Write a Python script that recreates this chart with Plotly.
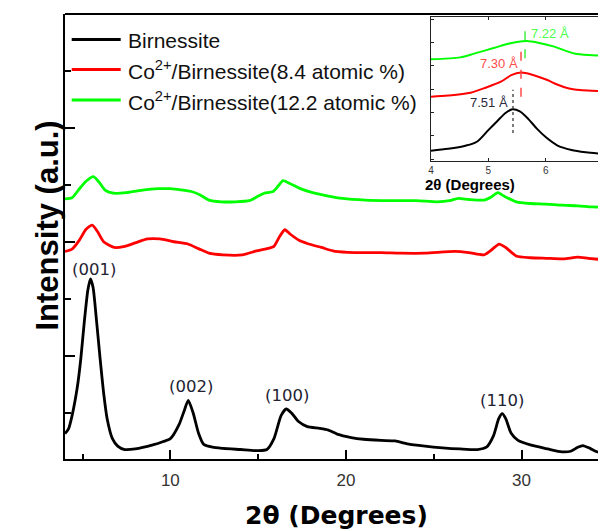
import plotly.graph_objects as go

# ---------------- main data ----------------
bir_x = [4.0, 4.2, 4.4, 4.7, 4.9, 5.1, 5.3, 5.45, 5.6, 5.8, 6.0, 6.2, 6.4, 6.7, 7.0, 7.4, 8.0, 9.0, 9.6,
         10.0, 10.5, 10.8, 11.02, 11.3, 11.6, 11.9, 12.4, 13.0, 14.0, 15.0, 15.5, 15.9, 16.3, 16.6, 16.9,
         17.3, 17.8, 18.5, 19.0, 19.5, 20.3, 21.0, 22.0, 22.8, 23.5, 24.5, 25.5, 26.5, 27.5, 28.0, 28.4,
         28.7, 28.9, 29.1, 29.4, 29.8, 30.5, 31.5, 32.3, 32.8, 33.2, 33.5, 33.9, 34.3, 34.81]
bir_y = [-0.36, -0.28, -0.05, 0.45, 0.95, 1.6, 2.15, 2.35, 2.2, 1.6, 0.95, 0.35, -0.1, -0.45, -0.58, -0.64,
         -0.63, -0.56, -0.5, -0.45, -0.2, 0.05, 0.22, 0.0, -0.35, -0.55, -0.6, -0.62, -0.64, -0.66, -0.64,
         -0.45, -0.05, 0.07, 0.0, -0.15, -0.24, -0.27, -0.3, -0.37, -0.43, -0.46, -0.48, -0.49, -0.54,
         -0.58, -0.61, -0.63, -0.64, -0.6, -0.4, -0.1, -0.01, -0.1, -0.35, -0.48, -0.56, -0.63, -0.68,
         -0.67, -0.6, -0.57, -0.62, -0.68, -0.72]

co84_x = [4.0, 4.4, 4.8, 5.2, 5.55, 5.85, 6.2, 6.8, 7.4, 8.0, 8.7, 9.4, 10.2, 11.0, 11.6, 12.2, 13.0,
          14.1, 14.9, 15.5, 15.9, 16.2, 16.52, 16.8, 17.3, 17.8, 18.6, 19.4, 20.5, 22.0, 23.1, 24.5,
          26.2, 27.0, 27.86, 28.3, 28.72, 29.1, 29.7, 30.5, 31.4, 32.4, 33.2, 33.8, 34.81]
co84_y = [2.83, 2.87, 3.02, 3.22, 3.29, 3.18, 3.0, 2.9, 2.92, 2.98, 3.05, 3.05, 3.0, 2.96, 2.88, 2.8,
          2.77, 2.77, 2.84, 2.88, 2.92, 3.08, 3.21, 3.14, 3.03, 2.97, 2.9, 2.83, 2.81, 2.81, 2.8, 2.8,
          2.83, 2.81, 2.77, 2.86, 2.96, 2.9, 2.75, 2.72, 2.71, 2.7, 2.73, 2.71, 2.68]

co122_x = [4.0, 4.4, 4.8, 5.2, 5.62, 5.95, 6.3, 6.75, 7.5, 8.5, 9.3, 10.0, 10.6, 11.2, 11.7, 12.2, 12.9,
           13.7, 14.5, 15.0, 15.35, 15.85, 16.15, 16.42, 16.8, 17.4, 18.1, 19.0, 19.8, 21.1, 22.5, 24.0,
           25.2, 25.9, 26.4, 27.0, 27.86, 28.3, 28.65, 29.0, 29.7, 30.5, 31.4, 32.3, 33.2, 34.0, 34.81]
co122_y = [3.75, 3.77, 3.92, 4.06, 4.14, 4.04, 3.9, 3.85, 3.86, 3.91, 3.93, 3.93, 3.91, 3.88, 3.82, 3.73,
           3.7, 3.7, 3.72, 3.8, 3.85, 3.88, 3.98, 4.07, 4.02, 3.93, 3.86, 3.8, 3.76, 3.73, 3.72, 3.72,
           3.7, 3.72, 3.76, 3.74, 3.73, 3.79, 3.86, 3.8, 3.7, 3.67, 3.66, 3.64, 3.63, 3.61, 3.6]

peak_labels = ["(001)", "(002)", "(100)", "(110)"]
peak_lx = [5.65, 11.19, 16.67, 28.9]
peak_ly = [2.52, 0.47, 0.30, 0.215]

# ---------------- inset data ----------------
in_bir_x = [4.0, 4.3, 4.6, 4.8, 5.0, 5.15, 5.3, 5.42, 5.55, 5.7, 5.85, 6.0, 6.2, 6.45, 6.7, 7.0]
in_bir_y = [-0.63, -0.55, -0.42, -0.25, 0.25, 0.62, 0.98, 1.14, 1.05, 0.72, 0.3, -0.05, -0.4, -0.6, -0.7, -0.77]
in_co84_x = [4.0, 4.3, 4.69, 4.95, 5.22, 5.4, 5.57, 5.75, 6.03, 6.2, 6.39, 6.6, 6.8, 7.0]
in_co84_y = [1.68, 1.73, 1.85, 2.06, 2.32, 2.6, 2.71, 2.63, 2.39, 2.2, 2.04, 1.96, 1.93, 1.92]
in_co122_x = [4.0, 4.51, 4.75, 4.98, 5.15, 5.33, 5.5, 5.67, 5.85, 6.15, 6.35, 6.5, 6.75, 7.0]
in_co122_y = [3.28, 3.36, 3.52, 3.68, 3.8, 3.93, 4.02, 4.06, 4.0, 3.82, 3.64, 3.53, 3.46, 3.43]

d_labels = ["7.51 Å", "7.30 Å", "7.22 Å"]
d_pos = [5.43, 5.57, 5.64]
d_lo = [0.12, 1.68, 3.32]
d_hi = [1.97, 3.6, 4.74]
d_lx = [5.02, 5.19, 6.08]
d_ly = [1.42, 3.11, 4.39]

legend_names = ["Birnessite", "Co<sup>2+</sup>/Birnessite(8.4 atomic %)",
                "Co<sup>2+</sup>/Birnessite(12.2 atomic %)"]
colors = ["#000000", "#ff0000", "#00ff00"]
d_colors = ["#444444", "#ff3c3c", "#33ee33"]
d_text_colors = ["#2a2a3a", "#ff4d4d", "#4dff4d"]
d_dash = ["dot", "dash", "dash"]

FONT = "Liberation Sans, Arial, sans-serif"
WIDE = "DejaVu Sans, Verdana, sans-serif"

# page body has an 8px margin: figure is sized so it ends at the window edge
OFF = 8
W, H = 606 - OFF, 531 - OFF
ml, mr, mt, mb = 57, 0, 6, 72
pw, ph = W - ml - mr, H - mt - mb


def px(wx):
    return (wx - OFF - ml) / pw


def py(wy):
    return (H - mb - (wy - OFF)) / ph


fig = go.Figure()
for xs, ys, c, n in [(bir_x, bir_y, colors[0], "Birnessite"),
                     (co84_x, co84_y, colors[1], "Co/Bir 8.4"),
                     (co122_x, co122_y, colors[2], "Co/Bir 12.2")]:
    fig.add_trace(go.Scatter(x=xs, y=ys, mode="lines", name=n, showlegend=False,
                             line=dict(color=c, width=2.8, shape="spline", smoothing=0.6),
                             xaxis="x", yaxis="y", hoverinfo="skip"))

for xs, ys, c in [(in_bir_x, in_bir_y, colors[0]), (in_co84_x, in_co84_y, colors[1]),
                  (in_co122_x, in_co122_y, colors[2])]:
    fig.add_trace(go.Scatter(x=xs, y=ys, mode="lines", showlegend=False,
                             line=dict(color=c, width=2, shape="spline", smoothing=0.8),
                             xaxis="x2", yaxis="y2", hoverinfo="skip"))

for i in range(3):
    fig.add_trace(go.Scatter(x=[d_pos[i], d_pos[i]], y=[d_lo[i], d_hi[i]], mode="lines",
                             showlegend=False, line=dict(color=d_colors[i], width=1.4, dash=d_dash[i]),
                             xaxis="x2", yaxis="y2", hoverinfo="skip"))

annotations = []
for t, x, y in zip(peak_labels, peak_lx, peak_ly):
    annotations.append(dict(x=x, y=y, xref="x", yref="y", text=t, showarrow=False,
                            font=dict(family=WIDE, size=16.5, color="#222233")))
for i in range(3):
    annotations.append(dict(x=d_lx[i], y=d_ly[i], xref="x2", yref="y2", text=d_labels[i],
                            showarrow=False, font=dict(family=FONT, size=13, color=d_text_colors[i])))

# legend (drawn manually)
leg_wy = [39.4, 69.4, 100.0]
shapes = []
for i in range(3):
    shapes.append(dict(type="line", xref="paper", yref="paper", x0=px(71.7), x1=px(120.7),
                       y0=py(leg_wy[i]), y1=py(leg_wy[i]), line=dict(color=colors[i], width=3)))
    annotations.append(dict(x=px(126), y=py(leg_wy[i]), xref="paper", yref="paper", text=legend_names[i],
                            xanchor="left", yanchor="middle", showarrow=False, yshift=-1,
                            font=dict(family=FONT, size=21, color="#111111")))
# top border of main frame
shapes.append(dict(type="line", xref="paper", yref="paper", x0=0, x1=1, y0=1, y1=1,
                   line=dict(color="#000000", width=2)))

# axis titles
annotations.append(dict(x=px(27), y=py(226), xref="paper", yref="paper",
                        text="<b>Intensity (a.u.)</b>", showarrow=False, textangle=-90,
                        font=dict(family=FONT, size=31, color="#000000")))
annotations.append(dict(x=px(336), y=py(515), xref="paper", yref="paper",
                        text="<b>2θ (Degrees)</b>", showarrow=False,
                        yanchor="middle", font=dict(family=WIDE, size=25, color="#000000")))
annotations.append(dict(x=px(517), y=py(184.5), xref="paper", yref="paper",
                        text="<b>2θ (Degrees)</b>", showarrow=False, yanchor="middle",
                        font=dict(family=FONT, size=15, color="#000000")))

fig.update_layout(
    width=W, height=H, margin=dict(l=ml, r=mr, t=mt, b=mb),
    paper_bgcolor="white", plot_bgcolor="white",
    shapes=shapes, annotations=annotations,
    xaxis=dict(domain=[0, 1], range=[4, 34.81], showgrid=False, zeroline=False,
               showline=True, linecolor="black", linewidth=2,
               ticks="inside", ticklen=9, tickwidth=1.5, tickcolor="black", ticklabelstandoff=5,
               tick0=0, dtick=10, tickfont=dict(family=FONT, size=17, color="#333333"),
               minor=dict(ticks="inside", ticklen=5, tickwidth=1.5, tickcolor="black", dtick=5, tick0=0)),
    yaxis=dict(domain=[0, 1], range=[-0.806, 6.99], showgrid=False, zeroline=False,
               showline=True, linecolor="black", linewidth=2, showticklabels=False,
               ticks="inside", ticklen=10, tickwidth=1.5, tickcolor="black", tick0=1, dtick=2,
               minor=dict(ticks="inside", ticklen=6, tickwidth=1.5, tickcolor="black", dtick=1, tick0=0)),
    xaxis2=dict(domain=[px(431), px(603)], anchor="y2", range=[4, 7.0],
                showgrid=False, zeroline=False, showline=True, mirror="ticks",
                linecolor="#222222", linewidth=1, ticks="inside", ticklen=3, tickwidth=1,
                tickcolor="#222222", dtick=1, tickfont=dict(family=FONT, size=10, color="#333333")),
    yaxis2=dict(domain=[py(160.7), py(16.7)], anchor="x2",
                range=[-1.06, 5.1], showgrid=False, zeroline=False, showline=True, mirror="ticks",
                linecolor="#222222", linewidth=1, ticks="inside", ticklen=3, tickwidth=1,
                tickcolor="#222222", dtick=1, showticklabels=False),
)

fig.write_html("out.html")
